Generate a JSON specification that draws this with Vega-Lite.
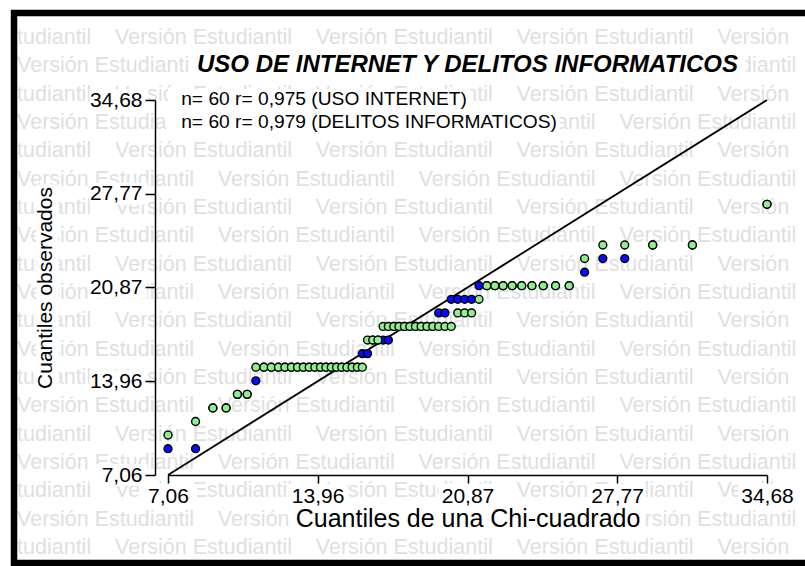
{
  "$schema": "https://vega.github.io/schema/vega-lite/v6.json",
  "width": 599,
  "height": 375,
  "autosize": {"type": "none"},
  "padding": {"left": 168, "top": 100, "right": 38, "bottom": 91},
  "background": "white",
  "config": {
    "view": {"stroke": null},
    "font": "Liberation Sans",
    "axis": {
      "domainColor": "black", "domainWidth": 1.5, "tickColor": "black", "tickWidth": 1.5,
      "labelColor": "black", "labelFont": "Liberation Sans", "labelFontSize": 21,
      "titleFont": "Liberation Sans", "titleFontSize": 21, "titleFontWeight": "normal", "titleColor": "black",
      "grid": false, "labelFlush": false, "labelOverlap": false
    }
  },
  "title": {
    "text": "USO DE INTERNET Y DELITOS INFORMATICOS",
    "font": "Liberation Sans", "fontSize": 24, "fontWeight": "bold", "fontStyle": "italic",
    "color": "black", "anchor": "middle", "frame": "group", "baseline": "alphabetic", "offset": -86
  },
  "datasets": {
    "puntos": [
      {"serie": "USO INTERNET", "q": 7.06, "obs": 9},
      {"serie": "USO INTERNET", "q": 8.33, "obs": 9},
      {"serie": "USO INTERNET", "q": 9.13, "obs": 12},
      {"serie": "USO INTERNET", "q": 9.74, "obs": 12},
      {"serie": "USO INTERNET", "q": 10.26, "obs": 13},
      {"serie": "USO INTERNET", "q": 10.71, "obs": 13},
      {"serie": "USO INTERNET", "q": 11.11, "obs": 14},
      {"serie": "USO INTERNET", "q": 11.48, "obs": 15},
      {"serie": "USO INTERNET", "q": 11.82, "obs": 15},
      {"serie": "USO INTERNET", "q": 12.15, "obs": 15},
      {"serie": "USO INTERNET", "q": 12.45, "obs": 15},
      {"serie": "USO INTERNET", "q": 12.75, "obs": 15},
      {"serie": "USO INTERNET", "q": 13.03, "obs": 15},
      {"serie": "USO INTERNET", "q": 13.30, "obs": 15},
      {"serie": "USO INTERNET", "q": 13.57, "obs": 15},
      {"serie": "USO INTERNET", "q": 13.83, "obs": 15},
      {"serie": "USO INTERNET", "q": 14.09, "obs": 15},
      {"serie": "USO INTERNET", "q": 14.34, "obs": 15},
      {"serie": "USO INTERNET", "q": 14.59, "obs": 15},
      {"serie": "USO INTERNET", "q": 14.83, "obs": 15},
      {"serie": "USO INTERNET", "q": 15.07, "obs": 15},
      {"serie": "USO INTERNET", "q": 15.31, "obs": 15},
      {"serie": "USO INTERNET", "q": 15.55, "obs": 15},
      {"serie": "USO INTERNET", "q": 15.79, "obs": 15},
      {"serie": "USO INTERNET", "q": 16.02, "obs": 16},
      {"serie": "USO INTERNET", "q": 16.26, "obs": 16},
      {"serie": "USO INTERNET", "q": 16.50, "obs": 17},
      {"serie": "USO INTERNET", "q": 16.74, "obs": 17},
      {"serie": "USO INTERNET", "q": 16.98, "obs": 17},
      {"serie": "USO INTERNET", "q": 17.22, "obs": 17},
      {"serie": "USO INTERNET", "q": 17.47, "obs": 18},
      {"serie": "USO INTERNET", "q": 17.71, "obs": 18},
      {"serie": "USO INTERNET", "q": 17.96, "obs": 18},
      {"serie": "USO INTERNET", "q": 18.21, "obs": 18},
      {"serie": "USO INTERNET", "q": 18.47, "obs": 18},
      {"serie": "USO INTERNET", "q": 18.73, "obs": 18},
      {"serie": "USO INTERNET", "q": 19.00, "obs": 18},
      {"serie": "USO INTERNET", "q": 19.27, "obs": 18},
      {"serie": "USO INTERNET", "q": 19.54, "obs": 19},
      {"serie": "USO INTERNET", "q": 19.83, "obs": 19},
      {"serie": "USO INTERNET", "q": 20.12, "obs": 20},
      {"serie": "USO INTERNET", "q": 20.42, "obs": 20},
      {"serie": "USO INTERNET", "q": 20.74, "obs": 20},
      {"serie": "USO INTERNET", "q": 21.06, "obs": 20},
      {"serie": "USO INTERNET", "q": 21.40, "obs": 21},
      {"serie": "USO INTERNET", "q": 21.76, "obs": 21},
      {"serie": "USO INTERNET", "q": 22.13, "obs": 21},
      {"serie": "USO INTERNET", "q": 22.51, "obs": 21},
      {"serie": "USO INTERNET", "q": 22.93, "obs": 21},
      {"serie": "USO INTERNET", "q": 23.37, "obs": 21},
      {"serie": "USO INTERNET", "q": 23.84, "obs": 21},
      {"serie": "USO INTERNET", "q": 24.36, "obs": 21},
      {"serie": "USO INTERNET", "q": 24.93, "obs": 21},
      {"serie": "USO INTERNET", "q": 25.56, "obs": 21},
      {"serie": "USO INTERNET", "q": 26.27, "obs": 22},
      {"serie": "USO INTERNET", "q": 27.11, "obs": 23},
      {"serie": "USO INTERNET", "q": 28.12, "obs": 23},
      {"serie": "USO INTERNET", "q": 29.41, "obs": 24},
      {"serie": "USO INTERNET", "q": 31.24, "obs": 24},
      {"serie": "USO INTERNET", "q": 34.68, "obs": 27},
      {"serie": "DELITOS INFORMATICOS", "q": 7.06, "obs": 10},
      {"serie": "DELITOS INFORMATICOS", "q": 8.33, "obs": 11},
      {"serie": "DELITOS INFORMATICOS", "q": 9.13, "obs": 12},
      {"serie": "DELITOS INFORMATICOS", "q": 9.74, "obs": 12},
      {"serie": "DELITOS INFORMATICOS", "q": 10.26, "obs": 13},
      {"serie": "DELITOS INFORMATICOS", "q": 10.71, "obs": 13},
      {"serie": "DELITOS INFORMATICOS", "q": 11.11, "obs": 15},
      {"serie": "DELITOS INFORMATICOS", "q": 11.48, "obs": 15},
      {"serie": "DELITOS INFORMATICOS", "q": 11.82, "obs": 15},
      {"serie": "DELITOS INFORMATICOS", "q": 12.15, "obs": 15},
      {"serie": "DELITOS INFORMATICOS", "q": 12.45, "obs": 15},
      {"serie": "DELITOS INFORMATICOS", "q": 12.75, "obs": 15},
      {"serie": "DELITOS INFORMATICOS", "q": 13.03, "obs": 15},
      {"serie": "DELITOS INFORMATICOS", "q": 13.30, "obs": 15},
      {"serie": "DELITOS INFORMATICOS", "q": 13.57, "obs": 15},
      {"serie": "DELITOS INFORMATICOS", "q": 13.83, "obs": 15},
      {"serie": "DELITOS INFORMATICOS", "q": 14.09, "obs": 15},
      {"serie": "DELITOS INFORMATICOS", "q": 14.34, "obs": 15},
      {"serie": "DELITOS INFORMATICOS", "q": 14.59, "obs": 15},
      {"serie": "DELITOS INFORMATICOS", "q": 14.83, "obs": 15},
      {"serie": "DELITOS INFORMATICOS", "q": 15.07, "obs": 15},
      {"serie": "DELITOS INFORMATICOS", "q": 15.31, "obs": 15},
      {"serie": "DELITOS INFORMATICOS", "q": 15.55, "obs": 15},
      {"serie": "DELITOS INFORMATICOS", "q": 15.79, "obs": 15},
      {"serie": "DELITOS INFORMATICOS", "q": 16.02, "obs": 15},
      {"serie": "DELITOS INFORMATICOS", "q": 16.26, "obs": 17},
      {"serie": "DELITOS INFORMATICOS", "q": 16.50, "obs": 17},
      {"serie": "DELITOS INFORMATICOS", "q": 16.74, "obs": 17},
      {"serie": "DELITOS INFORMATICOS", "q": 16.98, "obs": 18},
      {"serie": "DELITOS INFORMATICOS", "q": 17.22, "obs": 18},
      {"serie": "DELITOS INFORMATICOS", "q": 17.47, "obs": 18},
      {"serie": "DELITOS INFORMATICOS", "q": 17.71, "obs": 18},
      {"serie": "DELITOS INFORMATICOS", "q": 17.96, "obs": 18},
      {"serie": "DELITOS INFORMATICOS", "q": 18.21, "obs": 18},
      {"serie": "DELITOS INFORMATICOS", "q": 18.47, "obs": 18},
      {"serie": "DELITOS INFORMATICOS", "q": 18.73, "obs": 18},
      {"serie": "DELITOS INFORMATICOS", "q": 19.00, "obs": 18},
      {"serie": "DELITOS INFORMATICOS", "q": 19.27, "obs": 18},
      {"serie": "DELITOS INFORMATICOS", "q": 19.54, "obs": 18},
      {"serie": "DELITOS INFORMATICOS", "q": 19.83, "obs": 18},
      {"serie": "DELITOS INFORMATICOS", "q": 20.12, "obs": 18},
      {"serie": "DELITOS INFORMATICOS", "q": 20.42, "obs": 19},
      {"serie": "DELITOS INFORMATICOS", "q": 20.74, "obs": 19},
      {"serie": "DELITOS INFORMATICOS", "q": 21.06, "obs": 19},
      {"serie": "DELITOS INFORMATICOS", "q": 21.40, "obs": 20},
      {"serie": "DELITOS INFORMATICOS", "q": 21.76, "obs": 21},
      {"serie": "DELITOS INFORMATICOS", "q": 22.13, "obs": 21},
      {"serie": "DELITOS INFORMATICOS", "q": 22.51, "obs": 21},
      {"serie": "DELITOS INFORMATICOS", "q": 22.93, "obs": 21},
      {"serie": "DELITOS INFORMATICOS", "q": 23.37, "obs": 21},
      {"serie": "DELITOS INFORMATICOS", "q": 23.84, "obs": 21},
      {"serie": "DELITOS INFORMATICOS", "q": 24.36, "obs": 21},
      {"serie": "DELITOS INFORMATICOS", "q": 24.93, "obs": 21},
      {"serie": "DELITOS INFORMATICOS", "q": 25.56, "obs": 21},
      {"serie": "DELITOS INFORMATICOS", "q": 26.27, "obs": 23},
      {"serie": "DELITOS INFORMATICOS", "q": 27.11, "obs": 24},
      {"serie": "DELITOS INFORMATICOS", "q": 28.12, "obs": 24},
      {"serie": "DELITOS INFORMATICOS", "q": 29.41, "obs": 24},
      {"serie": "DELITOS INFORMATICOS", "q": 31.24, "obs": 24},
      {"serie": "DELITOS INFORMATICOS", "q": 34.68, "obs": 27}
    ],
    "marcas_eje": [
      {"v": 7.06}, {"v": 13.96}, {"v": 20.87}, {"v": 27.77}, {"v": 34.68}
    ],
    "marca": [
      {"fila": 0, "texto": "tudiantil\u00a0\u00a0\u00a0\u00a0Versión Estudiantil\u00a0\u00a0\u00a0\u00a0Versión Estudiantil\u00a0\u00a0\u00a0\u00a0Versión Estudiantil\u00a0\u00a0\u00a0\u00a0Versión"},
      {"fila": 1, "texto": "Versión Estudiantil\u00a0\u00a0\u00a0\u00a0Versión Estudiantil\u00a0\u00a0\u00a0\u00a0Versión Estudiantil\u00a0\u00a0\u00a0\u00a0Versión Estudiantil"},
      {"fila": 2, "texto": "tudiantil\u00a0\u00a0\u00a0\u00a0Versión Estudiantil\u00a0\u00a0\u00a0\u00a0Versión Estudiantil\u00a0\u00a0\u00a0\u00a0Versión Estudiantil\u00a0\u00a0\u00a0\u00a0Versión"},
      {"fila": 3, "texto": "Versión Estudiantil\u00a0\u00a0\u00a0\u00a0Versión Estudiantil\u00a0\u00a0\u00a0\u00a0Versión Estudiantil\u00a0\u00a0\u00a0\u00a0Versión Estudiantil"},
      {"fila": 4, "texto": "tudiantil\u00a0\u00a0\u00a0\u00a0Versión Estudiantil\u00a0\u00a0\u00a0\u00a0Versión Estudiantil\u00a0\u00a0\u00a0\u00a0Versión Estudiantil\u00a0\u00a0\u00a0\u00a0Versión"},
      {"fila": 5, "texto": "Versión Estudiantil\u00a0\u00a0\u00a0\u00a0Versión Estudiantil\u00a0\u00a0\u00a0\u00a0Versión Estudiantil\u00a0\u00a0\u00a0\u00a0Versión Estudiantil"},
      {"fila": 6, "texto": "tudiantil\u00a0\u00a0\u00a0\u00a0Versión Estudiantil\u00a0\u00a0\u00a0\u00a0Versión Estudiantil\u00a0\u00a0\u00a0\u00a0Versión Estudiantil\u00a0\u00a0\u00a0\u00a0Versión"},
      {"fila": 7, "texto": "Versión Estudiantil\u00a0\u00a0\u00a0\u00a0Versión Estudiantil\u00a0\u00a0\u00a0\u00a0Versión Estudiantil\u00a0\u00a0\u00a0\u00a0Versión Estudiantil"},
      {"fila": 8, "texto": "tudiantil\u00a0\u00a0\u00a0\u00a0Versión Estudiantil\u00a0\u00a0\u00a0\u00a0Versión Estudiantil\u00a0\u00a0\u00a0\u00a0Versión Estudiantil\u00a0\u00a0\u00a0\u00a0Versión"},
      {"fila": 9, "texto": "Versión Estudiantil\u00a0\u00a0\u00a0\u00a0Versión Estudiantil\u00a0\u00a0\u00a0\u00a0Versión Estudiantil\u00a0\u00a0\u00a0\u00a0Versión Estudiantil"},
      {"fila": 10, "texto": "tudiantil\u00a0\u00a0\u00a0\u00a0Versión Estudiantil\u00a0\u00a0\u00a0\u00a0Versión Estudiantil\u00a0\u00a0\u00a0\u00a0Versión Estudiantil\u00a0\u00a0\u00a0\u00a0Versión"},
      {"fila": 11, "texto": "Versión Estudiantil\u00a0\u00a0\u00a0\u00a0Versión Estudiantil\u00a0\u00a0\u00a0\u00a0Versión Estudiantil\u00a0\u00a0\u00a0\u00a0Versión Estudiantil"},
      {"fila": 12, "texto": "tudiantil\u00a0\u00a0\u00a0\u00a0Versión Estudiantil\u00a0\u00a0\u00a0\u00a0Versión Estudiantil\u00a0\u00a0\u00a0\u00a0Versión Estudiantil\u00a0\u00a0\u00a0\u00a0Versión"},
      {"fila": 13, "texto": "Versión Estudiantil\u00a0\u00a0\u00a0\u00a0Versión Estudiantil\u00a0\u00a0\u00a0\u00a0Versión Estudiantil\u00a0\u00a0\u00a0\u00a0Versión Estudiantil"},
      {"fila": 14, "texto": "tudiantil\u00a0\u00a0\u00a0\u00a0Versión Estudiantil\u00a0\u00a0\u00a0\u00a0Versión Estudiantil\u00a0\u00a0\u00a0\u00a0Versión Estudiantil\u00a0\u00a0\u00a0\u00a0Versión"},
      {"fila": 15, "texto": "Versión Estudiantil\u00a0\u00a0\u00a0\u00a0Versión Estudiantil\u00a0\u00a0\u00a0\u00a0Versión Estudiantil\u00a0\u00a0\u00a0\u00a0Versión Estudiantil"},
      {"fila": 16, "texto": "tudiantil\u00a0\u00a0\u00a0\u00a0Versión Estudiantil\u00a0\u00a0\u00a0\u00a0Versión Estudiantil\u00a0\u00a0\u00a0\u00a0Versión Estudiantil\u00a0\u00a0\u00a0\u00a0Versión"},
      {"fila": 17, "texto": "Versión Estudiantil\u00a0\u00a0\u00a0\u00a0Versión Estudiantil\u00a0\u00a0\u00a0\u00a0Versión Estudiantil\u00a0\u00a0\u00a0\u00a0Versión Estudiantil"},
      {"fila": 18, "texto": "tudiantil\u00a0\u00a0\u00a0\u00a0Versión Estudiantil\u00a0\u00a0\u00a0\u00a0Versión Estudiantil\u00a0\u00a0\u00a0\u00a0Versión Estudiantil\u00a0\u00a0\u00a0\u00a0Versión"}
    ]
  },
  "layer": [
    {
      "data": {"name": "marca"},
      "mark": {"type": "text", "align": "left", "baseline": "middle", "font": "Liberation Sans", "fontSize": 21.5, "color": "#e0e0e0"},
      "encoding": {
        "x": {"datum": 0.1, "type": "quantitative"},
        "y": {"field": "fila", "type": "quantitative", "scale": {"domain": [2.188, 15.423], "reverse": true, "nice": false, "zero": false}, "axis": null},
        "text": {"field": "texto"}
      }
    },
    {
      "layer": [
        {
          "data": {"values": [{}]},
          "mark": {"type": "rect", "fill": "white", "width": 556, "height": 28},
          "encoding": {"x": {"datum": 20.87, "type": "quantitative"}, "y": {"datum": 37.47, "type": "quantitative"}}
        },
        {
          "data": {"values": [{}]},
          "mark": {"type": "rect", "fill": "white", "width": 302, "height": 22},
          "encoding": {"x": {"datum": 14.02, "type": "quantitative"}, "y": {"datum": 34.68, "type": "quantitative"}}
        },
        {
          "data": {"values": [{}]},
          "mark": {"type": "rect", "fill": "white", "width": 392, "height": 22},
          "encoding": {"x": {"datum": 16.10, "type": "quantitative"}, "y": {"datum": 33.05, "type": "quantitative"}}
        },
        {
          "data": {"values": [{}]},
          "mark": {"type": "rect", "fill": "white", "width": 22, "height": 206},
          "encoding": {"x": {"datum": 1.50, "type": "quantitative"}, "y": {"datum": 20.87, "type": "quantitative"}}
        },
        {
          "data": {"values": [{}]},
          "mark": {"type": "rect", "fill": "white", "width": 356, "height": 28},
          "encoding": {"x": {"datum": 20.87, "type": "quantitative"}, "y": {"datum": 3.82, "type": "quantitative"}}
        },
        {
          "data": {"name": "marcas_eje"},
          "mark": {"type": "rect", "fill": "white", "width": 58, "height": 22},
          "encoding": {"x": {"field": "v", "type": "quantitative"}, "y": {"datum": 5.59, "type": "quantitative"}}
        },
        {
          "data": {"name": "marcas_eje"},
          "mark": {"type": "rect", "fill": "white", "width": 58, "height": 22},
          "encoding": {"x": {"datum": 4.78, "type": "quantitative"}, "y": {"field": "v", "type": "quantitative"}}
        },
        {
          "data": {"values": [{}]},
          "mark": {"type": "rect", "fill": "white", "fillOpacity": 0, "stroke": "black", "strokeWidth": 6.5},
          "encoding": {
            "x": {"datum": -0.04, "type": "quantitative"},
            "x2": {"datum": 37.2},
            "y": {"datum": 41.08, "type": "quantitative"},
            "y2": {"datum": 0.58}
          }
        },
        {
          "data": {"values": [{}]},
          "mark": {"type": "rule", "color": "black", "strokeWidth": 1.8},
          "encoding": {
            "x": {"datum": 7.06, "type": "quantitative"},
            "x2": {"datum": 34.68},
            "y": {"datum": 7.06, "type": "quantitative"},
            "y2": {"datum": 34.68}
          }
        },
        {
          "data": {"name": "puntos"},
          "mark": {"type": "point", "filled": true, "shape": "circle", "size": 62, "stroke": "black", "strokeWidth": 1.4, "opacity": 1},
          "encoding": {
            "x": {
              "field": "q", "type": "quantitative",
              "scale": {"domain": [7.06, 34.68], "nice": false, "zero": false},
              "axis": {
                "values": [7.06, 13.96, 20.87, 27.77, 34.68],
                "labelExpr": "replace(format(datum.value, '.2f'), '.', ',')",
                "tickSize": 8, "labelPadding": 2, "zindex": 2,
                "title": "Cuantiles de una Chi-cuadrado", "titleFontSize": 25, "titlePadding": 0
              }
            },
            "y": {
              "field": "obs", "type": "quantitative",
              "scale": {"domain": [7.06, 34.68], "nice": false, "zero": false},
              "axis": {
                "values": [7.06, 13.96, 20.87, 27.77, 34.68],
                "labelExpr": "replace(format(datum.value, '.2f'), '.', ',')",
                "tickSize": 10, "labelPadding": 3, "offset": 13, "zindex": 2,
                "title": "Cuantiles observados", "titlePadding": 34
              }
            },
            "color": {
              "field": "serie", "type": "nominal",
              "scale": {"domain": ["USO INTERNET", "DELITOS INFORMATICOS"], "range": ["#0a0aff", "#90ee90"]},
              "legend": {
                "orient": "none", "legendX": -6, "legendY": -11, "title": null,
                "symbolSize": 0, "symbolStrokeWidth": 0, "symbolOpacity": 0, "labelOffset": 0,
                "labelFont": "Liberation Sans", "labelFontSize": 19.2, "labelColor": "black",
                "rowPadding": 3, "padding": 0, "labelLimit": 700,
                "labelExpr": "datum.label == 'USO INTERNET' ? 'n= 60 r= 0,975 (USO INTERNET)' : 'n= 60 r= 0,979 (DELITOS INFORMATICOS)'"
              }
            }
          }
        }
      ]
    }
  ],
  "resolve": {"scale": {"y": "independent"}}
}
